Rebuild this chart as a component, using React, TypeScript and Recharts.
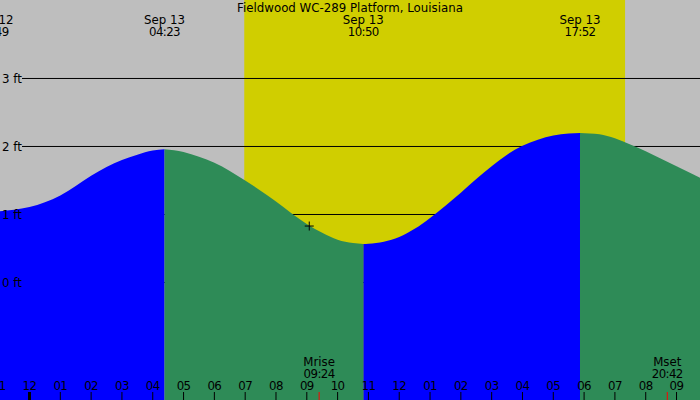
import { Area, ComposedChart, ReferenceArea, ReferenceDot, ReferenceLine, XAxis, YAxis } from "recharts";

const WIDTH = 700;
const HEIGHT = 400;

// hours after Sep 13 00:00 on x, feet on y
const X_DOMAIN: [number, number] = [-0.9575, 21.762];
const Y_DOMAIN: [number, number] = [-1.728, 4.154];

const GREY = "#bebebe";
const DAY = "#d0ce00";
const RISING = "#0000ff";
const FALLING = "#2e8b57";
const FONT = "'DejaVu Sans', sans-serif";

const TITLE = "Fieldwood WC-289 Platform, Louisiana";

// tide curve
const tideHours = [
	-1.183, -0.5, 0, 0.5, 1, 1.5, 2, 2.5, 3, 3.5, 4, 4.383,
	5, 5.5, 6, 6.5, 7, 7.5, 8, 8.5, 9, 9.5, 10, 10.5, 10.833,
	11, 11.5, 12, 12.5, 13, 13.5, 14, 14.5, 15, 15.5, 16, 16.5, 17, 17.5, 17.867,
	18.5, 19, 19.5, 20, 20.5, 21, 21.5, 21.8,
];
const tideFeet = [
	1.04, 1.07, 1.11, 1.18, 1.28, 1.42, 1.57, 1.7, 1.8, 1.88, 1.94, 1.96,
	1.92, 1.85, 1.76, 1.64, 1.5, 1.35, 1.19, 1.02, 0.86, 0.73, 0.63, 0.58, 0.565,
	0.57, 0.6, 0.67, 0.79, 0.95, 1.13, 1.32, 1.52, 1.71, 1.88, 2.01, 2.1, 2.16, 2.19, 2.2,
	2.18, 2.12, 2.03, 1.93, 1.82, 1.71, 1.6, 1.53,
];

// highs and lows
const extremeHours = [-1.183, 4.383, 10.833, 17.867];
const extremeDays = ["Sep 12", "Sep 13", "Sep 13", "Sep 13"];
const extremeClock = ["22:49", "04:23", "10:50", "17:52"];
const extremeRising = [true, false, true, false]; // tide rises after this one

const sunHours = [6.97, 19.33];
const moonHours = [9.4, 20.7];
const moonNames = ["Mrise", "Mset"];
const moonClock = ["09:24", "20:42"];

const hourTicks = [-1, 0, 1, 2, 3, 4, 5, 6, 7, 8, 9, 10, 11, 12, 13, 14, 15, 16, 17, 18, 19, 20, 21];
const feetTicks = [0, 1, 2, 3];

const nowHour = 9.08;
const nowFeet = 0.83;

const rows = tideHours.map((t, i) => {
	const ft = tideFeet[i];
	let k = 0;
	extremeHours.forEach((h, j) => {
		if (t >= h - 1e-6) k = j;
	});
	const atExtreme = k > 0 && Math.abs(t - extremeHours[k]) < 1e-6;
	const up = extremeRising[k] || (atExtreme && extremeRising[k - 1]);
	const down = !extremeRising[k] || (atExtreme && !extremeRising[k - 1]);
	return { t, rise: up ? ft : null, fall: down ? ft : null };
});

const textProps = { fontSize: 11.8, fontFamily: FONT, fill: "#000", textAnchor: "middle" as const };
// digits in the original are set a little tighter
const clockProps = { ...textProps, letterSpacing: -0.6 };

function HourTick({ x, payload }: any) {
	const h = payload.value as number;
	const label = String(((h % 12) + 12) % 12 || 12).padStart(2, "0");
	const midnight = h === 0;
	return (
		<g>
			<text {...clockProps} x={x} y={HEIGHT - 10}>
				{label}
			</text>
			<rect x={midnight ? x - 1.5 : x - 0.5} y={HEIGHT - 8} width={midnight ? 3 : 1} height={8} fill="#000" />
		</g>
	);
}

function MoonTick({ x, payload }: any) {
	const i = moonHours.indexOf(payload.value);
	return (
		<g>
			<text {...textProps} x={x} y={HEIGHT - 34}>
				{moonNames[i]}
			</text>
			<text {...clockProps} x={x} y={HEIGHT - 22}>
				{moonClock[i]}
			</text>
			<rect x={x - 0.5} y={HEIGHT - 8} width={1} height={8} fill="#ff0000" />
		</g>
	);
}

function ExtremeTick({ x, payload }: any) {
	const i = extremeHours.indexOf(payload.value);
	return (
		<g>
			<text {...textProps} x={x} y={24}>
				{extremeDays[i]}
			</text>
			<text {...clockProps} x={x} y={36}>
				{extremeClock[i]}
			</text>
		</g>
	);
}

function FeetTick({ y, payload }: any) {
	return (
		<text {...textProps} textAnchor="start" x={2} y={y + 4.5}>
			{`${payload.value} ft`}
		</text>
	);
}

function LevelLine(p: any) {
	// the level lines start just right of their "n ft" labels
	return <line x1={p.x1 + 22} y1={p.y1} x2={p.x2} y2={p.y2} stroke="#000" strokeWidth={1} />;
}

function NowMark(p: any) {
	return <path d={`M${p.cx - 4.5},${p.cy}h9M${p.cx},${p.cy - 4.5}v9`} stroke="#000" strokeWidth={1} fill="none" />;
}

export default function App() {
	return (
		<div style={{ position: "fixed", left: 0, top: 0, width: WIDTH, height: HEIGHT, background: GREY }}>
			<ComposedChart width={WIDTH} height={HEIGHT} data={rows} margin={{ top: 0, right: 0, bottom: 0, left: 0 }}>
				<ReferenceArea
					x1={sunHours[0]}
					x2={sunHours[1]}
					fill={DAY}
					fillOpacity={1}
					stroke="none"
					zIndex={-300}
				/>
				{feetTicks.map((v) => (
					<ReferenceLine key={v} y={v} shape={LevelLine} zIndex={-200} />
				))}
				<Area
					dataKey="rise"
					type="monotone"
					fill={RISING}
					fillOpacity={1}
					stroke="none"
					baseValue={Y_DOMAIN[0]}
					dot={false}
					activeDot={false}
					isAnimationActive={false}
				/>
				<Area
					dataKey="fall"
					type="monotone"
					fill={FALLING}
					fillOpacity={1}
					stroke="none"
					baseValue={Y_DOMAIN[0]}
					dot={false}
					activeDot={false}
					isAnimationActive={false}
				/>
				<ReferenceDot x={nowHour} y={nowFeet} shape={NowMark} zIndex={1000} />
				<XAxis
					dataKey="t"
					type="number"
					domain={X_DOMAIN}
					allowDataOverflow
					ticks={hourTicks}
					interval={0}
					tick={(p: any) => <HourTick {...p} />}
					axisLine={false}
					tickLine={false}
					mirror
					height={1}
				/>
				<XAxis
					xAxisId="moon"
					dataKey="t"
					type="number"
					domain={X_DOMAIN}
					allowDataOverflow
					ticks={moonHours}
					interval={0}
					tick={(p: any) => <MoonTick {...p} />}
					axisLine={false}
					tickLine={false}
					mirror
					height={1}
				/>
				<XAxis
					xAxisId="top"
					orientation="top"
					dataKey="t"
					type="number"
					domain={X_DOMAIN}
					allowDataOverflow
					ticks={extremeHours}
					interval={0}
					tick={(p: any) => <ExtremeTick {...p} />}
					axisLine={false}
					tickLine={false}
					mirror
					height={1}
				/>
				<YAxis
					type="number"
					domain={Y_DOMAIN}
					allowDataOverflow
					ticks={feetTicks}
					interval={0}
					tick={(p: any) => <FeetTick {...p} />}
					axisLine={false}
					tickLine={false}
					mirror
					width={1}
				/>
			</ComposedChart>
			<svg
				width={WIDTH}
				height={HEIGHT}
				style={{ position: "absolute", left: 0, top: 0, pointerEvents: "none" }}
			>
				<text {...textProps} x={WIDTH / 2} y={12}>
					{TITLE}
				</text>
			</svg>
		</div>
	);
}
